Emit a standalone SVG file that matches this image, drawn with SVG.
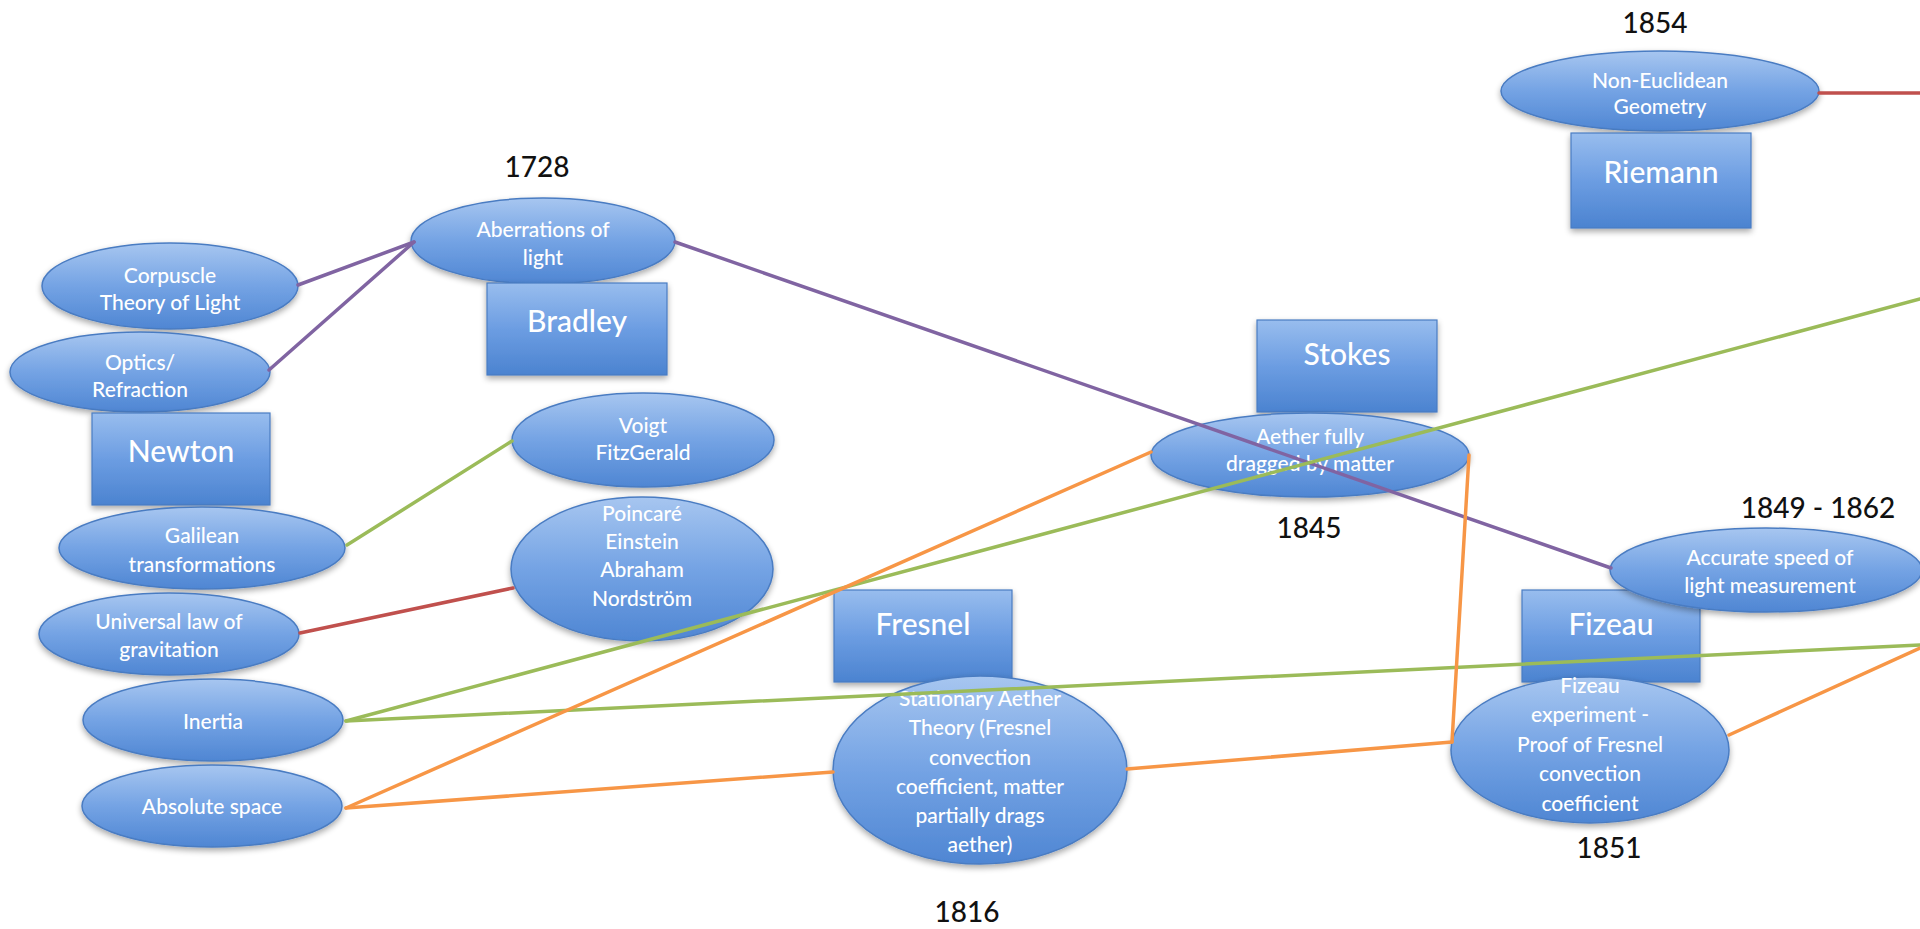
<svg xmlns="http://www.w3.org/2000/svg" width="1920" height="929" viewBox="0 0 1920 929">
<defs>
<linearGradient id="gEl" x1="0" y1="0" x2="0" y2="1">
<stop offset="0" stop-color="#a7c6f0"/>
<stop offset="0.5" stop-color="#74a3e4"/>
<stop offset="1" stop-color="#4f86d3"/>
</linearGradient>
<linearGradient id="gRc" x1="0" y1="0" x2="0" y2="1">
<stop offset="0" stop-color="#98bdee"/>
<stop offset="0.5" stop-color="#6c9de2"/>
<stop offset="1" stop-color="#4b83d0"/>
</linearGradient>
<filter id="sh" x="-20%" y="-20%" width="140%" height="150%">
<feGaussianBlur in="SourceAlpha" stdDeviation="3"/>
<feOffset dx="0" dy="3" result="b"/>
<feComponentTransfer><feFuncA type="linear" slope="0.35"/></feComponentTransfer>
<feMerge><feMergeNode/><feMergeNode in="SourceGraphic"/></feMerge>
</filter>
</defs>
<style>
.el{fill:url(#gEl);stroke:#4a7cc2;stroke-width:1.5;filter:url(#sh)}
.rc{fill:url(#gRc);stroke:#4a7cc2;stroke-width:1.2;filter:url(#sh)}
.t{font-family:Lato,"Open Sans","Liberation Sans",sans-serif;font-size:21px;font-weight:500;fill:#ffffff;text-anchor:middle}
.tb{font-family:Lato,"Open Sans","Liberation Sans",sans-serif;font-size:30px;font-weight:500;fill:#ffffff;text-anchor:middle}
.yr{font-family:Lato,"Open Sans","Liberation Sans",sans-serif;font-size:28px;font-weight:500;fill:#111111;text-anchor:middle}
.c{fill:none;stroke-width:3.5;stroke-linecap:round}
.pu{stroke:#8064a2}.gr{stroke:#9bbb59}.or{stroke:#f79646}.rd{stroke:#c0504d}
</style>
<rect width="1920" height="929" fill="#ffffff"/>

<g id="years">
<text class="yr" x="537" y="177">1728</text>
<text class="yr" x="1655" y="33">1854</text>
<text class="yr" x="1309" y="538">1845</text>
<text class="yr" x="1818" y="518">1849 - 1862</text>
<text class="yr" x="1609" y="858">1851</text>
<text class="yr" x="967" y="922">1816</text>
</g>

<g id="newton-group">
<g id="corpuscle"><ellipse class="el" cx="170" cy="286" rx="128" ry="43"/><text class="t" x="170" y="283">Corpuscle</text><text class="t" x="170" y="310">Theory of Light</text></g>
<g id="optics"><ellipse class="el" cx="140" cy="372" rx="130" ry="40"/><text class="t" x="140" y="370">Optics/</text><text class="t" x="140" y="397">Refraction</text></g>
<g id="newton"><rect class="rc" x="92" y="413" width="178" height="92"/><text class="tb" x="181" y="462">Newton</text></g>
<g id="galilean"><ellipse class="el" cx="202" cy="548" rx="143" ry="41"/><text class="t" x="202" y="543">Galilean</text><text class="t" x="202" y="572">transformations</text></g>
<g id="universal"><ellipse class="el" cx="169" cy="634" rx="130" ry="41"/><text class="t" x="169" y="629">Universal law of</text><text class="t" x="169" y="657">gravitation</text></g>
<g id="inertia"><ellipse class="el" cx="213" cy="720" rx="130" ry="41"/><text class="t" x="213" y="729">Inertia</text></g>
<g id="absolute"><ellipse class="el" cx="212" cy="806" rx="130" ry="41"/><text class="t" x="212" y="814">Absolute space</text></g>
</g>

<g id="aberrations"><ellipse class="el" cx="543" cy="241" rx="132" ry="43"/><text class="t" x="543" y="237">Aberrations of</text><text class="t" x="543" y="265">light</text></g>
<g id="bradley"><rect class="rc" x="487" y="283" width="180" height="92"/><text class="tb" x="577" y="332">Bradley</text></g>
<g id="voigt"><ellipse class="el" cx="643" cy="440" rx="131" ry="47"/><text class="t" x="643" y="433">Voigt</text><text class="t" x="643" y="460">FitzGerald</text></g>
<g id="poincare"><ellipse class="el" cx="642" cy="569" rx="131" ry="72"/><text class="t" x="642" y="521">Poincaré</text><text class="t" x="642" y="549">Einstein</text><text class="t" x="642" y="577">Abraham</text><text class="t" x="642" y="606">Nordström</text></g>

<g id="fresnel"><rect class="rc" x="834" y="590" width="178" height="92"/><text class="tb" x="923" y="635">Fresnel</text></g>
<g id="stationary"><ellipse class="el" cx="980" cy="770" rx="147" ry="94"/>
<text class="t" x="980" y="706">Stationary Aether</text><text class="t" x="980" y="735">Theory (Fresnel</text><text class="t" x="980" y="765">convection</text><text class="t" x="980" y="794">coefficient, matter</text><text class="t" x="980" y="823">partially drags</text><text class="t" x="980" y="852">aether)</text></g>

<g id="stokes"><rect class="rc" x="1257" y="320" width="180" height="92"/><text class="tb" x="1347" y="365">Stokes</text></g>
<g id="aether"><ellipse class="el" cx="1310" cy="455" rx="159" ry="42"/><text class="t" x="1310" y="444">Aether fully</text><text class="t" x="1310" y="471">dragged by matter</text></g>

<g id="fizeau"><rect class="rc" x="1522" y="590" width="178" height="92"/><text class="tb" x="1611" y="635">Fizeau</text></g>
<g id="fizeau-exp"><ellipse class="el" cx="1590" cy="750" rx="139" ry="73"/>
<text class="t" x="1590" y="693">Fizeau</text><text class="t" x="1590" y="722">experiment -</text><text class="t" x="1590" y="752">Proof of Fresnel</text><text class="t" x="1590" y="781">convection</text><text class="t" x="1590" y="811">coefficient</text></g>
<g id="accurate"><ellipse class="el" cx="1766" cy="570" rx="156" ry="42"/><text class="t" x="1770" y="565">Accurate speed of</text><text class="t" x="1770" y="593">light measurement</text></g>

<g id="noneuclid"><ellipse class="el" cx="1660" cy="91" rx="159" ry="40"/><text class="t" x="1660" y="88">Non-Euclidean</text><text class="t" x="1660" y="114">Geometry</text></g>
<g id="riemann"><rect class="rc" x="1571" y="133" width="180" height="95"/><text class="tb" x="1661" y="183">Riemann</text></g>

<g id="connectors">
<line class="c pu" x1="298" y1="285" x2="414" y2="242"/>
<line class="c pu" x1="269" y1="370" x2="414" y2="242"/>
<line class="c pu" x1="675" y1="242" x2="1611" y2="568"/>
<line class="c gr" x1="347" y1="545" x2="512" y2="441"/>
<line class="c rd" x1="300" y1="633" x2="513" y2="588"/>
<line class="c gr" x1="346" y1="721" x2="1920" y2="299"/>
<line class="c gr" x1="346" y1="721" x2="1920" y2="645"/>
<line class="c or" x1="346" y1="808" x2="1151" y2="452"/>
<line class="c or" x1="346" y1="808" x2="833" y2="772"/>
<line class="c or" x1="1127" y1="769" x2="1452" y2="742"/>
<line class="c or" x1="1469" y1="455" x2="1452" y2="742"/>
<line class="c or" x1="1729" y1="735" x2="1920" y2="648"/>
<line class="c rd" x1="1819" y1="93" x2="1920" y2="93"/>
</g>
</svg>
